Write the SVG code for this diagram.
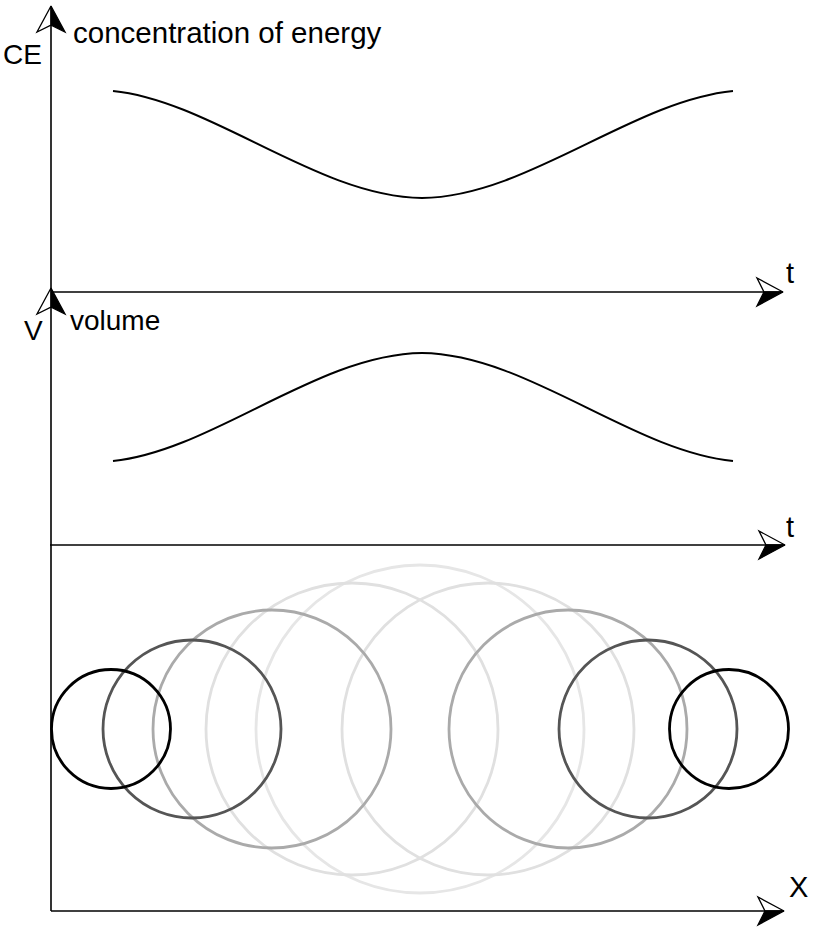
<svg xmlns="http://www.w3.org/2000/svg" xmlns:xlink="http://www.w3.org/1999/xlink" width="815" height="927" viewBox="0 0 815 927">
<style>
.axis{stroke:#000;stroke-width:1.6;fill:none}
.curve{stroke:#000;stroke-width:2;fill:none}
.c{fill:none;stroke-width:2.8}
.lbl{font-family:"Liberation Sans",Arial,sans-serif;font-size:28px;fill:#000}
</style>
<defs>
<g id="arr">
<polygon points="0,0 -26,-14 -19,0" fill="#fff" stroke="#000" stroke-width="1.3" stroke-linejoin="miter"/>
<polygon points="0,0 -19,0 -26,14" fill="#000" stroke="#000" stroke-width="1.3"/>
</g>
</defs>
<rect width="815" height="927" fill="#fff"/>
<g id="connectors">
<line class="axis" x1="51" y1="12" x2="51" y2="911"/>
<line class="axis" x1="51" y1="292" x2="778" y2="292"/>
<line class="axis" x1="50" y1="545" x2="780" y2="545"/>
<line class="axis" x1="51" y1="911" x2="779" y2="911"/>
<use xlink:href="#arr" transform="translate(51,6) rotate(-90)"/>
<use xlink:href="#arr" transform="translate(51,288) rotate(-90)"/>
<use xlink:href="#arr" transform="translate(783,292)"/>
<use xlink:href="#arr" transform="translate(785,545)"/>
<use xlink:href="#arr" transform="translate(784,911)"/>
</g>
<g id="labels">
<text class="lbl" x="3" y="64">CE</text>
<text class="lbl" x="73" y="43" style="font-size:29.5px">concentration of energy</text>
<text class="lbl" x="24" y="340">V</text>
<text class="lbl" x="70" y="330">volume</text>
<text class="lbl" x="786" y="283" style="font-size:29px">t</text>
<text class="lbl" x="786" y="537" style="font-size:29px">t</text>
<text class="lbl" x="789" y="897" style="font-size:29px">X</text>
</g>
<g id="energy-curve">
<path class="curve" d="M113,91 C212,101 318,197 422,198 C526,197 632,101 733,91"/>
</g>
<g id="volume-curve">
<path class="curve" d="M113,461 C212,451 318,354 422,353 C526,354 632,451 733,461"/>
</g>
<g id="circles">
<circle class="c" cx="420" cy="729" r="164" stroke="#e6e6e6"/>
<circle class="c" cx="352" cy="729" r="146" stroke="#e0e0e0"/>
<circle class="c" cx="488" cy="729" r="146" stroke="#e0e0e0"/>
<circle class="c" cx="272" cy="729" r="119" stroke="#aaaaaa"/>
<circle class="c" cx="568" cy="729" r="119" stroke="#aaaaaa"/>
<circle class="c" cx="192" cy="729" r="89" stroke="#555555"/>
<circle class="c" cx="648" cy="729" r="89" stroke="#555555"/>
<circle class="c" cx="111" cy="729" r="59.5" stroke="#000000"/>
<circle class="c" cx="729" cy="729" r="59.5" stroke="#000000"/>
</g>
</svg>
